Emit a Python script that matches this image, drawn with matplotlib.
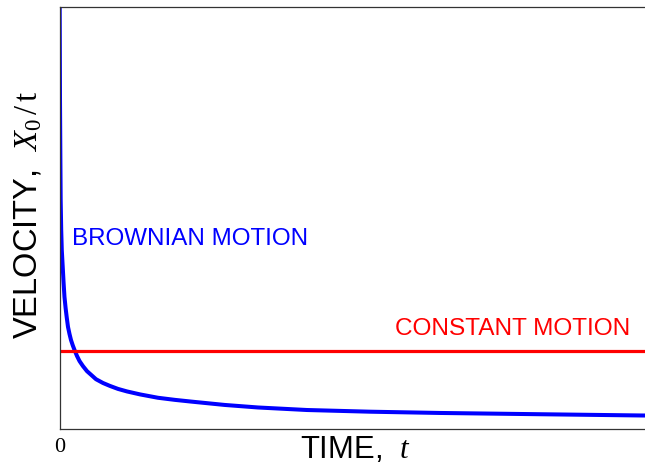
import numpy as np
from matplotlib import pyplot as plt

# values (time and velocity in axis units 0..1)
time_brownian = [0.0002, 0.0003, 0.00085, 0.0015, 0.0020, 0.0029, 0.0039, 0.0055,
                 0.0070, 0.0085, 0.0104, 0.0123, 0.0145, 0.0171, 0.0196, 0.0227,
                 0.0260, 0.0299, 0.0342, 0.0401, 0.0470, 0.0543, 0.0623, 0.0743,
                 0.0863, 0.0999, 0.1153, 0.1375, 0.1682, 0.1973, 0.2246, 0.2822,
                 0.3390, 0.4227, 0.5303, 0.6499, 0.8207, 0.9966, 1.02]
vel_brownian = [1.20, 1.00, 0.780, 0.637, 0.543, 0.472, 0.424, 0.384,
                0.346, 0.313, 0.287, 0.265, 0.242, 0.225, 0.211, 0.198,
                0.186, 0.173, 0.161, 0.149, 0.137, 0.128, 0.118, 0.109,
                0.102, 0.095, 0.089, 0.082, 0.074, 0.069, 0.065, 0.057,
                0.051, 0.045, 0.041, 0.038, 0.035, 0.032, 0.032]
vel_constant = 0.1855

plt.rcParams['mathtext.fontset'] = 'custom'
plt.rcParams['mathtext.rm'] = 'Liberation Serif'
plt.rcParams['mathtext.it'] = 'Liberation Serif:italic'
plt.rcParams['font.family'] = 'Liberation Sans'

fig = plt.figure(figsize=(6.45, 4.65), dpi=100)
ax = fig.add_axes([59.5 / 645, 1 - 429 / 465, 1 - 59.5 / 645, 422 / 465])

ax.plot(time_brownian, vel_brownian, color='#0000ff', lw=2.9,
        solid_joinstyle='round', solid_capstyle='butt')
ax.axhline(vel_constant, color='#ff0000', lw=2.3)

ax.text(0.021, 0.436, 'BROWNIAN MOTION', color='#0000ff', fontsize=17.4, va='baseline')
ax.text(0.573, 0.2227, 'CONSTANT MOTION', color='#ff0000', fontsize=17.6, va='baseline')

ax.set_xlim(0, 1)
ax.set_ylim(0, 1)

ax.set_xticks([0])
ax.set_xticklabels(['0'], fontfamily='Liberation Serif', fontsize=16)
ax.set_yticks([])
ax.tick_params(axis='x', length=0, pad=6.5)

ax.set_xlabel('TIME,  $t$', fontsize=22.3, va='baseline')
ax.xaxis.set_label_coords(0.505, -0.0687)
ax.set_ylabel('VELOCITY,  $X_0\\,/\\,\\mathrm{t}$', fontsize=23.5, va='baseline',
              rotation_mode='anchor')
ax.yaxis.set_label_coords(-0.038, 0.508)

for side in ['left', 'bottom', 'top']:
    ax.spines[side].set_color('#333333')
    ax.spines[side].set_linewidth(0.9)
ax.spines['right'].set_visible(False)

fig.savefig('out.png', dpi=100)
